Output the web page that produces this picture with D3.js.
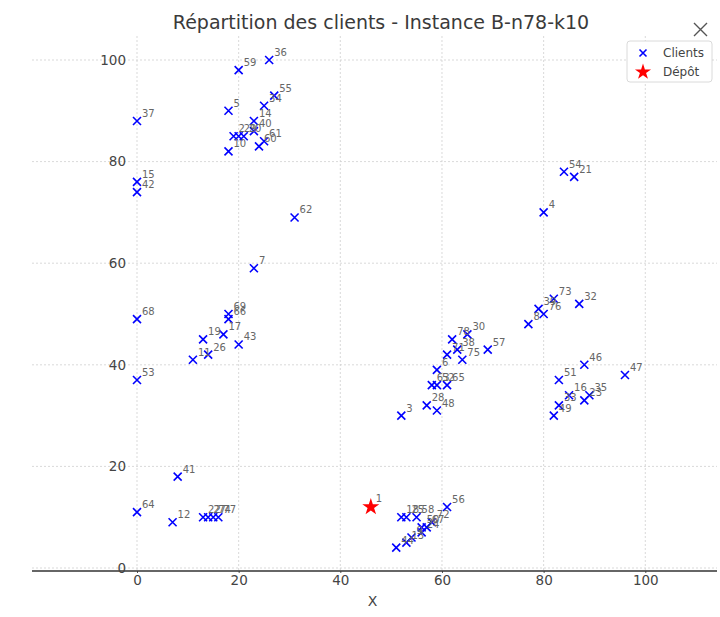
<!DOCTYPE html>
<html><head><meta charset="utf-8">
<script src="https://cdn.jsdelivr.net/npm/d3@7"></script>
<style>body{margin:0;background:#fff}svg{display:block}</style>
</head><body>
<svg id="c" width="720" height="617"></svg>
<script>
const title = "Répartition des clients - Instance B-n78-k10";
const xTicks = [0,20,40,60,80,100];
const yTicks = [0,20,40,60,80,100];
const depot = {id:"1", x:46, y:12};
const clientIds = ["37","59","36","5","55","34","14","40","2","29","20","61","60","10","15","42","62","7","68","53","69","66","17","19","43","26","11","41","64","12","22","27","74","77","56","18","25","58","44","13","9","24","50","67","72","3","28","48","63","52","65","6","71","78","30","38","75","57","8","39","76","73","32","46","47","51","16","35","23","33","49","54","21","4"];
const clientX = [0,20,26,18,27,25,23,23,19,20,21,25,24,18,0,0,31,23,0,0,18,18,17,13,20,14,11,8,0,7,13,14,15,16,61,52,53,55,51,53,54,56,56,57,58,52,57,59,58,59,61,59,61,62,65,63,64,69,77,79,80,82,87,88,96,83,85,89,88,83,82,84,86,80];
const clientY = [88,98,100,90,93,91,88,86,85,85,85,84,83,82,76,74,69,59,49,37,50,49,46,45,44,42,41,18,11,9,10,10,10,10,12,10,10,10,4,5,6,7,8,8,9,30,32,31,36,36,36,39,42,45,46,43,41,43,48,51,50,53,52,40,38,37,34,34,33,32,30,78,77,70];

const svg = d3.select("#c");
const L=32,R=717,T=36,B=571;
const x = d3.scaleLinear().domain([0,100]).range([137,645.3]);
const y = d3.scaleLinear().domain([0,100]).range([568,60]);

// grid
const g = svg.append("g");
g.selectAll(".gx").data(xTicks).enter().append("line")
 .attr("x1",d=>x(d)).attr("x2",d=>x(d)).attr("y1",T).attr("y2",B)
 .attr("stroke","#cfcfcf").attr("stroke-width",0.8).attr("stroke-dasharray","2,2");
g.selectAll(".gy").data(yTicks).enter().append("line")
 .attr("y1",d=>y(d)).attr("y2",d=>y(d)).attr("x1",L).attr("x2",R)
 .attr("stroke","#cfcfcf").attr("stroke-width",0.8).attr("stroke-dasharray","2,2");

// x axis
const xa = svg.append("g").attr("transform",`translate(0,${B})`)
 .call(d3.axisBottom(x).tickValues(xTicks).tickSize(2).tickPadding(2));
xa.select(".domain").remove();
xa.selectAll(".tick line").attr("stroke","#555");
xa.selectAll("text").attr("font-family","DejaVu Sans").attr("font-size",13.5).attr("fill","#444");
svg.append("line").attr("x1",L).attr("x2",R).attr("y1",B).attr("y2",B).attr("stroke","#333").attr("stroke-width",1.5);

// y axis
const ya = svg.append("g").attr("transform",`translate(${x(0)},0)`)
 .call(d3.axisLeft(y).tickValues(yTicks).tickSize(0).tickPadding(11));
ya.select(".domain").remove();
ya.selectAll("text").attr("font-family","DejaVu Sans").attr("font-size",13.5).attr("fill","#444");

svg.append("text").attr("x",(L+R)/2 - 2).attr("y",606).attr("text-anchor","middle")
 .attr("font-family","DejaVu Sans").attr("font-size",14).attr("fill","#444").text("X");

// title
svg.append("text").attr("x",381).attr("y",29).attr("text-anchor","middle")
 .attr("font-family","DejaVu Sans").attr("font-size",19).attr("fill","#3a3a3a").text(title);

// close icon
svg.append("path").attr("d","M694,23 L707,36 M707,23 L694,36").attr("stroke","#555").attr("stroke-width",1.4).attr("fill","none");

// clients
const clients = clientIds.map((id,i)=>({id, x:clientX[i], y:clientY[i]}));
const cross = "M-4,-4L4,4M4,-4L-4,4";
const pts = svg.append("g");
pts.selectAll("path").data(clients).enter().append("path")
 .attr("transform",d=>`translate(${x(d.x)},${y(d.y)})`)
 .attr("d",cross).attr("stroke","#0000ff").attr("stroke-width",1.6).attr("fill","none");
pts.selectAll("text").data(clients).enter().append("text")
 .attr("x",d=>x(d.x)+5).attr("y",d=>y(d.y)-4)
 .attr("font-family","DejaVu Sans").attr("font-size",10).attr("fill","#666").text(d=>d.id);

// depot
svg.append("path").attr("transform",`translate(${x(depot.x)},${y(depot.y)})`)
 .attr("d",d3.symbol(d3.symbolStar,90)()).attr("fill","#ff0000");
svg.append("text").attr("x",x(depot.x)+5).attr("y",y(depot.y)-5)
 .attr("font-family","DejaVu Sans").attr("font-size",10).attr("fill","#666").text(depot.id);

// legend
const lg = svg.append("g");
lg.append("rect").attr("x",627).attr("y",41).attr("width",85).attr("height",41).attr("rx",3)
 .attr("fill","#fff").attr("stroke","#d0d0d0").attr("stroke-width",0.8);
lg.append("path").attr("transform","translate(643,53)").attr("d","M-3.5,-3.5L3.5,3.5M3.5,-3.5L-3.5,3.5")
 .attr("stroke","#0000ff").attr("stroke-width",1.6);
lg.append("path").attr("transform","translate(643,72)").attr("d",d3.symbol(d3.symbolStar,80)()).attr("fill","#ff0000");
lg.append("text").attr("x",663).attr("y",57).attr("font-family","DejaVu Sans").attr("font-size",12).attr("fill","#444").text("Clients");
lg.append("text").attr("x",663).attr("y",76).attr("font-family","DejaVu Sans").attr("font-size",12).attr("fill","#444").text("Dépôt");
</script>
</body></html>
